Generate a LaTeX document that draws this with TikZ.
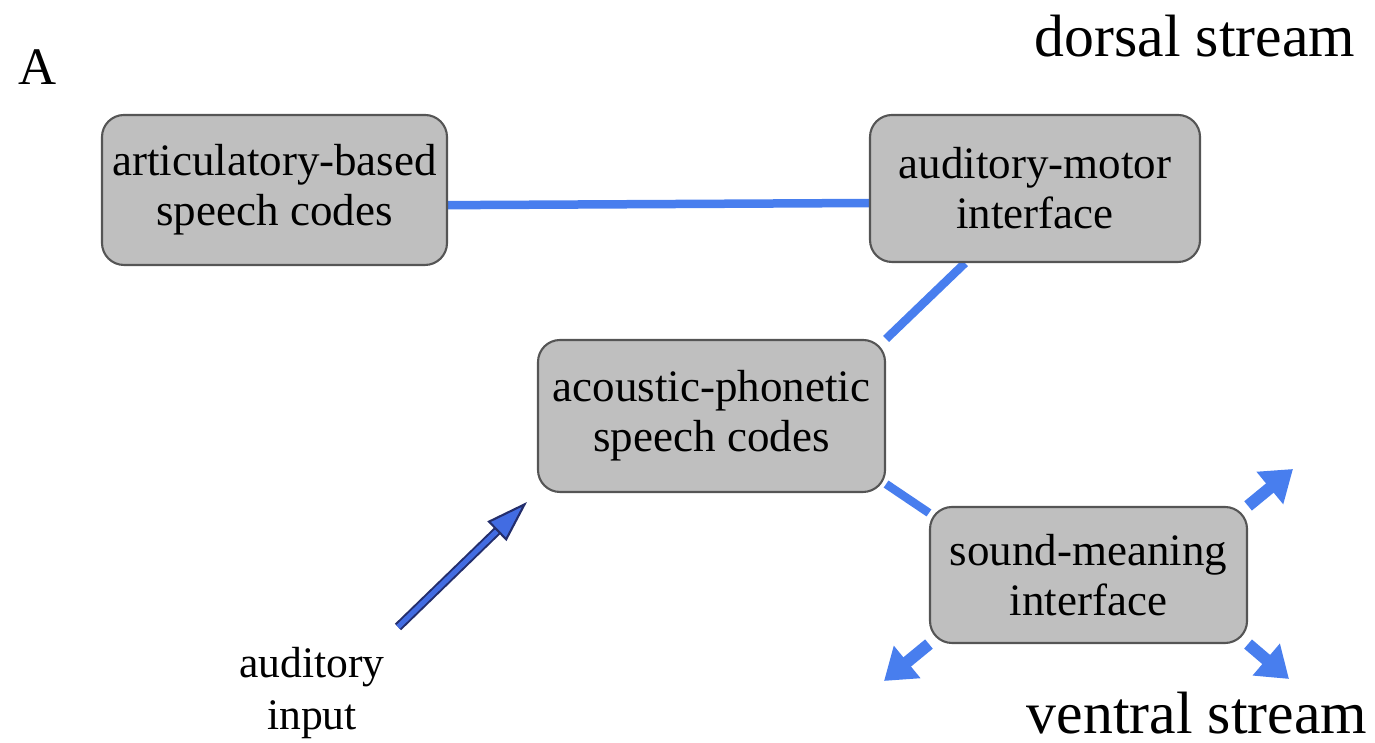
\documentclass[tikz,border=0pt]{standalone}
\usepackage{fontspec}
\setmainfont{Liberation Serif}
\usetikzlibrary{calc}
\usetikzlibrary{arrows.meta}
\usetikzlibrary{backgrounds}
\definecolor{boxgray}{RGB}{191,191,191}
\definecolor{boxedge}{RGB}{85,85,85}
\definecolor{linkblue}{RGB}{72,126,238}
\definecolor{inblue}{RGB}{66,108,226}
\definecolor{innavy}{RGB}{36,46,108}
\tikzset{
        codebox/.style = {draw = boxedge, fill = boxgray, line width = 0.6pt, rounded corners = 0.22cm, align = center, inner sep = 0pt, font = \fontsize{12.8}{14.2}\selectfont},
        link/.style = {draw = linkblue, line width = 0.085cm},
        outarrow/.style = {draw = linkblue, line width = 0.12cm, -{Triangle[length = 0.30cm, width = 0.40cm]}}
}

\begin{document}
\begin{tikzpicture}
        \useasboundingbox (0,0) rectangle (13.75,7.43);
        \node[codebox, minimum width = 3.45cm, minimum height = 1.50cm] (artic) at (2.745,5.53) {articulatory-based\\speech codes};
        \node[codebox, minimum width = 3.30cm, minimum height = 1.47cm] (audmot) at (10.35,5.545) {auditory-motor\\interface};
        \node[codebox, minimum width = 3.47cm, minimum height = 1.52cm] (acoust) at (7.115,3.27) {acoustic-phonetic\\speech codes};
        \node[codebox, minimum width = 3.17cm, minimum height = 1.36cm] (sndmean) at (10.885,1.68) {sound-meaning\\interface};
        \coordinate (outNE) at (12.93,2.74);
        \coordinate (outSW) at (8.84,0.62);
        \coordinate (outSE) at (12.89,0.64);
        \coordinate (inTail) at (3.98,1.16);
        \coordinate (inTip) at (5.27,2.41);
        \begin{scope}[on background layer]
                \draw[link] (artic.-5)--(audmot.185);
                \draw[link] ([xshift = -0.7cm]audmot.south)--(acoust.north east);
                \draw[link] ($(acoust.south east)+(0,0.09)$)--($(sndmean.north west)+(0,-0.07)$);
                \draw[outarrow] (sndmean.north east)--(outNE);
                \draw[outarrow] (sndmean.south west)--(outSW);
                \draw[outarrow] (sndmean.south east)--(outSE);
        \end{scope}
        \draw[innavy, line width = 0.09cm, shorten >= 0.38cm] (inTail)--(inTip);
        \draw[inblue, line width = 0.05cm, -{Triangle[length = 0.42cm, width = 0.27cm, color = innavy, fill = inblue, line width = 0.6pt]}] (inTail)--(inTip);
        \node[anchor = base, inner sep = 0pt, font = \fontsize{15}{18}\selectfont] (lblA) at (0.38,6.58) {A};
        \node[anchor = base, inner sep = 0pt, font = \fontsize{17}{20}\selectfont] (dorsal) at (11.95,6.86) {dorsal stream};
        \node[anchor = base, inner sep = 0pt, font = \fontsize{17}{20}\selectfont] (ventral) at (11.97,0.09) {ventral stream};
        \node[align = center, font = \fontsize{12.4}{14.8}\selectfont] (auditory) at (3.12,0.50) {auditory\\input};
\end{tikzpicture}
\end{document}
